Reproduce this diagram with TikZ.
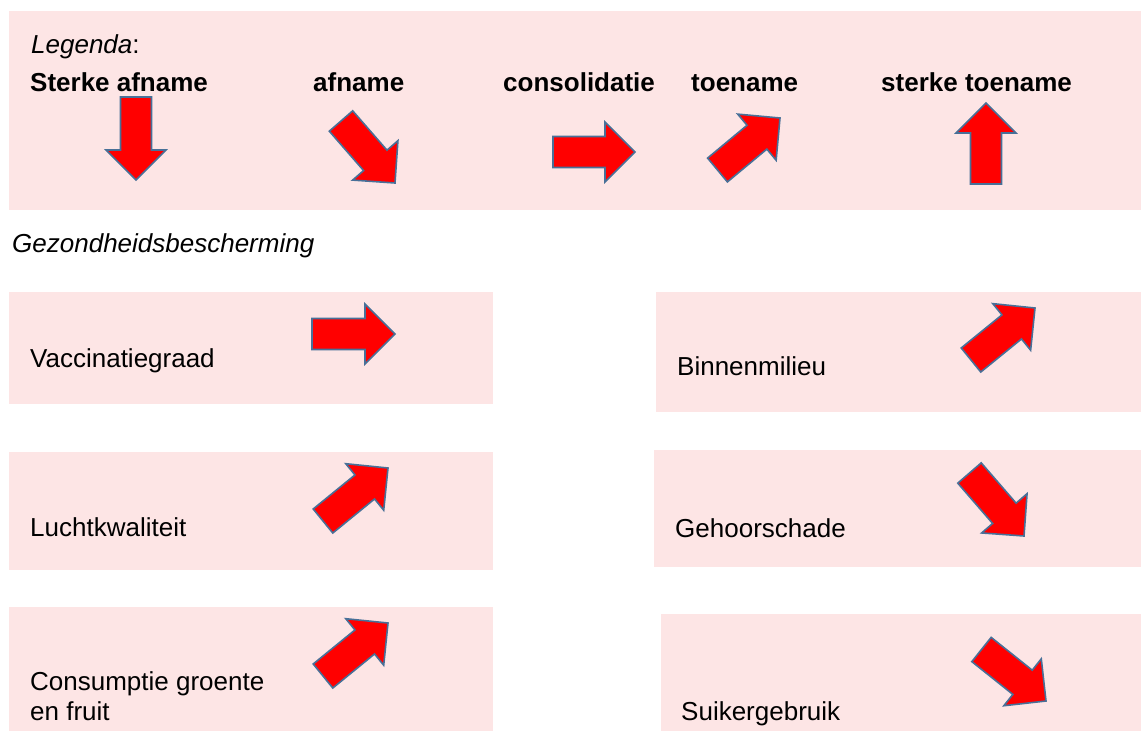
\documentclass[tikz,border=0pt]{standalone}
\usepackage{fontspec}
\setmainfont{Liberation Sans}
\usetikzlibrary{calc}

\definecolor{panelpink}{RGB}{253,229,229}
\definecolor{arrowred}{RGB}{255,0,0}
\definecolor{arrowedge}{RGB}{72,112,152}

\tikzset{
  panel/.style={fill=panelpink, draw=none},
  trend/.style={fill=arrowred, draw=arrowedge, line width=1.6pt, line join=miter},
  label/.style={anchor=base west, inner sep=0pt, font=\fontsize{26}{30}\selectfont},
  keylabel/.style={label, font=\fontsize{26}{30}\selectfont\bfseries},
}

% block arrow from tail centre #1 to tip #2
\newcommand\trendarrow[2]{%
  \path ($(#2)!30pt!(#1)$) coordinate (#2-base);
  \draw[trend] ($(#1)!15.5pt!90:(#2)$) -- ($(#2-base)!15.5pt!90:(#2)$)
    -- ($(#2-base)!30pt!90:(#2)$) -- (#2)
    -- ($(#2-base)!30pt!-90:(#2)$) -- ($(#2-base)!15.5pt!-90:(#2)$)
    -- ($(#1)!15.5pt!-90:(#2)$) -- cycle;}

\begin{document}
\begin{tikzpicture}[x=1pt, y=-1pt]
\useasboundingbox (0,0) rectangle (1141,731);

% panels
\path[panel] (9,11) rectangle (1141,210);
\path[panel] (9,292) rectangle (493,404);
\path[panel] (656,292) rectangle (1141,412);
\path[panel] (9,452) rectangle (493,570);
\path[panel] (654,450) rectangle (1141,567);
\path[panel] (9,607) rectangle (493,731);
\path[panel] (661,614) rectangle (1141,731);

% legend
\node[label] (legend) at (31,53) {\itshape Legenda\upshape:};
\node[keylabel] (k1) at (30,91) {Sterke afname};
\node[keylabel] (k2) at (313,91) {afname};
\node[keylabel] (k3) at (503,91) {consolidatie};
\node[keylabel] (k4) at (691,91) {toename};
\node[keylabel] (k5) at (881,91) {sterke toename};

\coordinate (k1t) at (136,97);   \coordinate (k1h) at (136,180);
\coordinate (k2t) at (341,121);  \coordinate (k2h) at (395,183);
\coordinate (k3t) at (553,152);  \coordinate (k3h) at (635,152);
\coordinate (k4t) at (717.5,170);\coordinate (k4h) at (780,118);
\coordinate (k5t) at (986,184);  \coordinate (k5h) at (986,103);
\trendarrow{k1t}{k1h}
\trendarrow{k2t}{k2h}
\trendarrow{k3t}{k3h}
\trendarrow{k4t}{k4h}
\trendarrow{k5t}{k5h}

% section title
\node[label] (title) at (12,252) {\itshape Gezondheidsbescherming};

% indicators
\node[label] (vac) at (30,367) {Vaccinatiegraad};
\node[label] (bin) at (677,375) {Binnenmilieu};
\node[label] (lucht) at (30,536) {Luchtkwaliteit};
\node[label] (gehoor) at (675,537) {Gehoorschade};
\node[label] (cons1) at (30,690) {Consumptie groente};
\node[label] (cons2) at (30,720) {en fruit};
\node[label] (suiker) at (681,720) {Suikergebruik};

\coordinate (vact) at (312,334);   \coordinate (vach) at (395,334);
\coordinate (bint) at (971,360);   \coordinate (binh) at (1035,308);
\coordinate (luct) at (323,521);   \coordinate (luch) at (388,468);
\coordinate (geht) at (969.5,473); \coordinate (gehh) at (1024,536);
\coordinate (cont) at (323,676);   \coordinate (conh) at (388,623);
\coordinate (suit) at (981.5,649.5); \coordinate (suih) at (1046,701);
\trendarrow{vact}{vach}
\trendarrow{bint}{binh}
\trendarrow{luct}{luch}
\trendarrow{geht}{gehh}
\trendarrow{cont}{conh}
\trendarrow{suit}{suih}
\end{tikzpicture}
\end{document}
